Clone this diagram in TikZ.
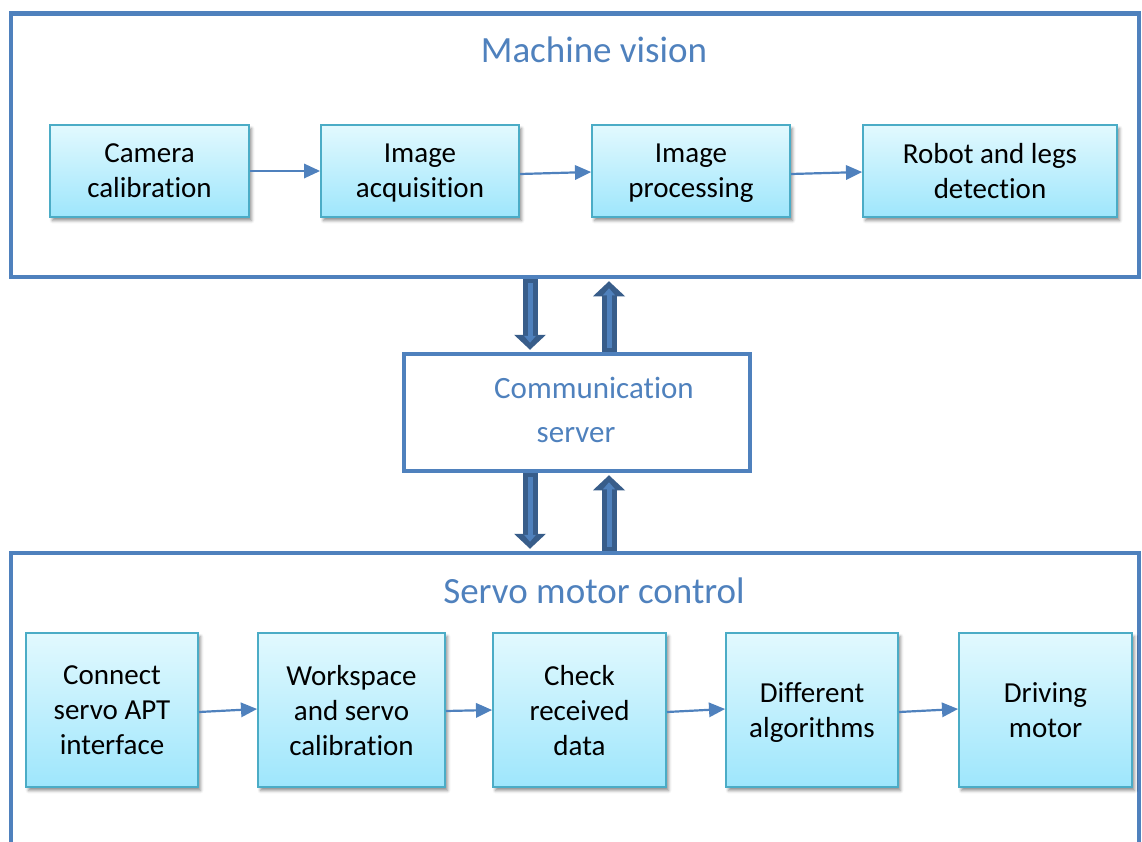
\documentclass[tikz,border=0pt]{standalone}
\usepackage{fontspec}
\setmainfont{Carlito}[Ligatures=NoCommon]
\usetikzlibrary{arrows.meta,calc,shadows.blur}

\definecolor{frameblue}{RGB}{79,129,189}
\definecolor{arrowdark}{RGB}{56,93,138}
\definecolor{arrowlight}{RGB}{79,129,189}
\definecolor{boxedge}{RGB}{75,172,198}
\definecolor{boxtop}{RGB}{226,249,254}
\definecolor{boxbot}{RGB}{158,230,252}
\definecolor{titleblue}{RGB}{79,129,189}

\tikzset{
  frame/.style={draw=frameblue, line width=4.5bp, inner sep=0pt},
  procbox/.style={draw=boxedge, line width=2bp, top color=boxtop, bottom color=boxbot,
    align=center, inner sep=0pt, text depth=-5bp,
    font=\fontsize{29bp}{35bp}\selectfont,
    blur shadow={shadow xshift=2.5bp, shadow yshift=-3.5bp, shadow blur radius=3bp, shadow opacity=45}},
  toprow/.style={procbox, minimum height=92bp},
  botrow/.style={procbox, minimum height=154bp},
  title/.style={text=titleblue, font=\fontsize{37bp}{44bp}\selectfont, anchor=base, inner sep=0pt},
  cstext/.style={text=titleblue, font=\fontsize{31bp}{37bp}\selectfont, anchor=base, inner sep=0pt},
  flow/.style={draw=frameblue, line width=2.2bp, -{Triangle[width=15bp,length=16bp,line width=0pt]}},
  blockout/.style={draw=arrowdark, line width=15bp, -{Triangle[width=32bp,length=15bp,line width=0pt]}},
  blockin/.style={draw=arrowlight, line width=5bp, -{Triangle[width=12bp,length=7bp,line width=0pt]}},
}

\begin{document}
\begin{tikzpicture}[x=1bp,y=-1bp]
\useasboundingbox (0,0) rectangle (1142,842);

% outer frames and server box
\node[frame, minimum width=1128bp, minimum height=263.5bp] (mv) at (575,145.25) {};
\node[frame, minimum width=1128bp, minimum height=400bp] (sc) at (575,753) {};
\node[frame, minimum width=346bp, minimum height=117bp] (cs) at (577,412.5) {};

% titles
\node[title] (mvtitle) at (594,62) {Machine vision};
\node[title] (sctitle) at (594,603) {Servo motor control};
\node[cstext] (cs1) at (594,398) {Communication};
\node[cstext] (cs2) at (576,442) {server};

% machine vision steps
\node[toprow, minimum width=199bp] (cam) at (149.5,171) {Camera\\calibration};
\node[toprow, minimum width=198bp] (acq) at (420,171) {Image\\acquisition};
\node[toprow, minimum width=198bp] (proc) at (691,171) {Image\\processing};
\node[toprow, minimum width=254bp] (det) at (990,171) {Robot and legs\\detection};

% servo control steps
\node[botrow, minimum width=172bp] (apt) at (112,710) {Connect\\servo APT\\interface};
\node[botrow, minimum width=187bp] (ws) at (351.5,710) {Workspace\\and servo\\calibration};
\node[botrow, minimum width=173bp] (chk) at (579.5,710) {Check\\received\\data};
\node[botrow, minimum width=172bp] (alg) at (812,710) {Different\\algorithms};
\node[botrow, minimum width=173bp] (drv) at (1045.5,710) {Driving\\motor};

% flow between steps
\draw[flow] (cam.east) -- (acq.west);
\draw[flow] ($(acq.east)+(0,3)$) -- ($(proc.west)+(0,1)$);
\draw[flow] ($(proc.east)+(0,3)$) -- ($(det.west)+(0,1)$);
\draw[flow] ($(apt.east)+(0,2)$) -- ($(ws.west)+(0,-1)$);
\draw[flow] ($(ws.east)+(0,1)$) -- (chk.west);
\draw[flow] ($(chk.east)+(0,2)$) -- ($(alg.west)+(0,-1)$);
\draw[flow] ($(alg.east)+(0,2)$) -- ($(drv.west)+(0,-1)$);

% data exchange with the communication server
\coordinate (dn) at (530,0);
\coordinate (upc) at (609,0);
\draw[blockout] (mv.south -| dn) -- ($(cs.north -| dn)+(0,-2)$);
\draw[blockin] ($(mv.south -| dn)+(0,4)$) -- ($(cs.north -| dn)+(0,-9)$);
\draw[blockout] (cs.north -| upc) -- ($(mv.south -| upc)+(0,2)$);
\draw[blockin] ($(cs.north -| upc)+(0,-4)$) -- ($(mv.south -| upc)+(0,9)$);
\draw[blockout] (cs.south -| dn) -- ($(sc.north -| dn)+(0,-2)$);
\draw[blockin] ($(cs.south -| dn)+(0,4)$) -- ($(sc.north -| dn)+(0,-9)$);
\draw[blockout] (sc.north -| upc) -- ($(cs.south -| upc)+(0,2)$);
\draw[blockin] ($(sc.north -| upc)+(0,-4)$) -- ($(cs.south -| upc)+(0,9)$);
\end{tikzpicture}
\end{document}
